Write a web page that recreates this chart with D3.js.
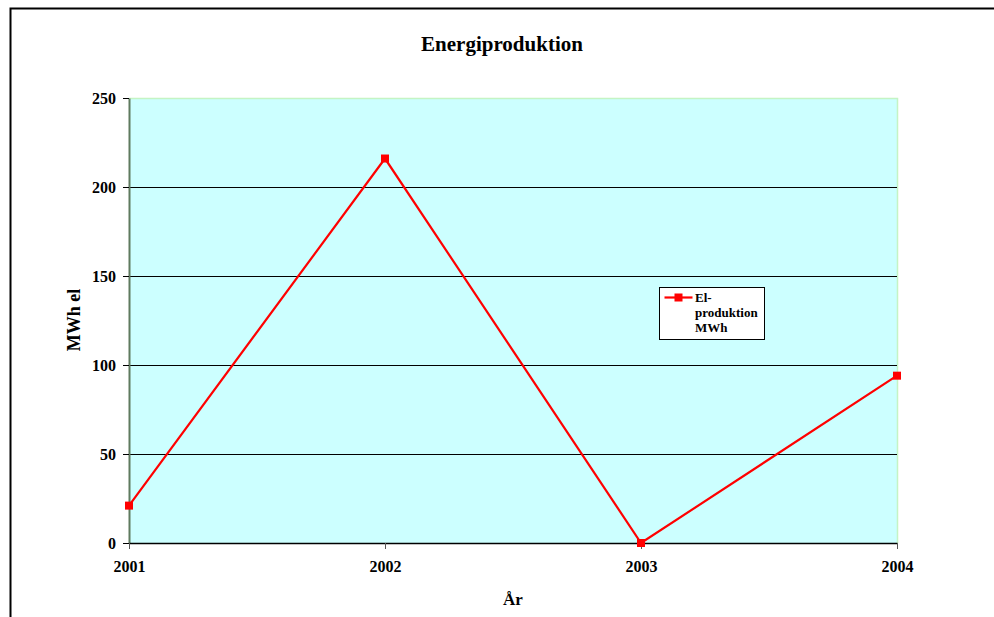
<!DOCTYPE html>
<html>
<head>
<meta charset="utf-8">
<script src="https://cdn.jsdelivr.net/npm/d3@7"></script>
<style>
  html, body { margin: 0; padding: 0; background: #ffffff; }
  svg { display: block; }
  svg text { font-family: 'Liberation Serif', 'DejaVu Serif', Times, serif !important; font-weight: bold; fill: #000; }
</style>
</head>
<body>
<svg id="chart" width="994" height="617"></svg>
<script>
// Annual electricity production
const years = ["2001", "2002", "2003", "2004"];
const elProduktion = [21, 216, 0, 94];
const yTicks = [0, 50, 100, 150, 200, 250];
const seriesName = ["El-", "produktion", "MWh"];

const svg = d3.select("#chart");
const W = 994, H = 617;
const plot = { left: 129, right: 897, top: 98, bottom: 543 };

// Outer chart frame (runs past the right and bottom edges)
svg.append("path")
  .attr("d", `M10.5,${H + 5} L10.5,8.5 L${W + 5},8.5`)
  .attr("fill", "none").attr("stroke", "#000").attr("stroke-width", 2);

const x = d3.scalePoint().domain(years).range([plot.left, plot.right]).padding(0);
const y = d3.scaleLinear().domain([0, 250]).range([plot.bottom, plot.top]);

// Plot background
svg.append("rect")
  .attr("x", plot.left).attr("y", plot.top)
  .attr("width", plot.right - plot.left).attr("height", plot.bottom - plot.top)
  .attr("fill", "#ccffff");

// Light border on top and right of the plot area
svg.append("path")
  .attr("d", `M${plot.left},${plot.top + 0.5} L${plot.right + 0.5},${plot.top + 0.5} L${plot.right + 0.5},${plot.bottom}`)
  .attr("fill", "none").attr("stroke", "#c4f4c4").attr("stroke-width", 1.5);

// Horizontal gridlines
svg.append("g").selectAll("line")
  .data(yTicks.filter(t => t > 0 && t < 250))
  .join("line")
  .attr("x1", plot.left).attr("x2", plot.right)
  .attr("y1", d => Math.round(y(d)) + 0.5).attr("y2", d => Math.round(y(d)) + 0.5)
  .attr("stroke", "#000").attr("stroke-width", 1);

// Y axis
const yAxis = svg.append("g")
  .attr("transform", `translate(${plot.left},0)`)
  .call(d3.axisLeft(y).tickValues(yTicks).tickSize(6).tickPadding(7).tickSizeOuter(0));
yAxis.attr("font-family", null);
yAxis.select(".domain").attr("stroke", "#5f7a5f").attr("stroke-width", 2);
yAxis.selectAll(".tick line").attr("stroke", "#000");
yAxis.selectAll(".tick text").attr("font-size", 16).attr("dy", "0.35em");

// X axis
const xAxis = svg.append("g")
  .attr("transform", `translate(0,${plot.bottom})`)
  .call(d3.axisBottom(x).tickSize(6).tickPadding(12).tickSizeOuter(0));
xAxis.attr("font-family", null);
xAxis.select(".domain").attr("stroke", "#000").attr("stroke-width", 1.5);
xAxis.selectAll(".tick line").attr("stroke", "#555");
xAxis.selectAll(".tick text").attr("font-size", 16);

// Series line
const line = d3.line().x((d, i) => x(years[i])).y(d => y(d));
svg.append("path")
  .datum(elProduktion)
  .attr("d", line)
  .attr("fill", "none").attr("stroke", "#ff0000").attr("stroke-width", 2.2);

// Square markers
svg.append("g").selectAll("rect")
  .data(elProduktion)
  .join("rect")
  .attr("x", (d, i) => x(years[i]) - 4).attr("y", d => y(d) - 4)
  .attr("width", 8).attr("height", 8)
  .attr("fill", "#ff0000");

// Titles
svg.append("text")
  .attr("x", 502).attr("y", 51)
  .attr("text-anchor", "middle").attr("font-size", 21)
  .text("Energiproduktion");

svg.append("text")
  .attr("x", 513).attr("y", 605)
  .attr("text-anchor", "middle").attr("font-size", 17)
  .text("År");

svg.append("text")
  .attr("transform", "translate(80,320) rotate(-90)")
  .attr("text-anchor", "middle").attr("font-size", 18)
  .text("MWh el");

// Legend
const legend = svg.append("g").attr("transform", "translate(659.5,287.5)");
legend.append("rect")
  .attr("width", 105).attr("height", 52)
  .attr("fill", "#ffffff").attr("stroke", "#000").attr("stroke-width", 1);
legend.append("line")
  .attr("x1", 5).attr("x2", 33).attr("y1", 10).attr("y2", 10)
  .attr("stroke", "#ff0000").attr("stroke-width", 2.2);
legend.append("rect")
  .attr("x", 15).attr("y", 6).attr("width", 8).attr("height", 8)
  .attr("fill", "#ff0000");
legend.append("g").selectAll("text")
  .data(seriesName)
  .join("text")
  .attr("x", 35.5).attr("y", (d, i) => 14 + i * 15)
  .attr("font-size", 13)
  .text(d => d);
</script>
</body>
</html>
